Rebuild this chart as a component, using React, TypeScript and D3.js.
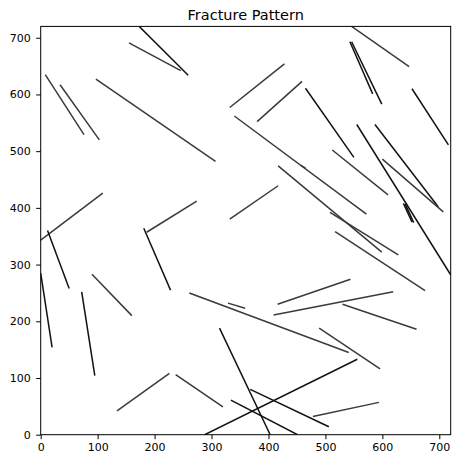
import { useEffect, useRef } from "react";
import * as d3 from "d3";

// fracture segments: [x1, y1, x2, y2] in data units
const SEGMENTS: [number, number, number, number][] = [
  [173, 720, 259, 634],
  [155, 691, 246, 642],
  [8, 635, 76, 529],
  [34, 617, 103, 520],
  [97, 627, 307, 482],
  [109, 426, 0, 343],
  [274, 412, 186, 357],
  [181, 364, 228, 255],
  [12, 360, 50, 258],
  [0, 285, 20, 154],
  [90, 283, 160, 210],
  [72, 252, 95, 104],
  [134, 42, 226, 108],
  [237, 106, 320, 49],
  [288, 0, 556, 133],
  [314, 188, 403, 0],
  [368, 80, 506, 14],
  [334, 61, 451, 0],
  [478, 32, 594, 57],
  [489, 188, 596, 116],
  [261, 250, 541, 145],
  [329, 232, 359, 223],
  [416, 230, 544, 274],
  [409, 211, 619, 252],
  [530, 230, 660, 186],
  [517, 358, 675, 254],
  [417, 474, 599, 322],
  [508, 392, 628, 317],
  [546, 720, 647, 649],
  [543, 693, 583, 601],
  [546, 693, 599, 583],
  [332, 577, 428, 654],
  [380, 552, 459, 623],
  [465, 611, 550, 489],
  [652, 610, 716, 511],
  [340, 562, 572, 389],
  [457, 475, 465, 470],
  [512, 502, 610, 423],
  [555, 547, 720, 282],
  [587, 547, 698, 402],
  [600, 486, 707, 393],
  [637, 408, 652, 375],
  [640, 407, 655, 374],
  [417, 439, 332, 380],
];

// segments drawn darker
const DARK = new Set([0, 7, 8, 9, 11, 14, 15, 16, 17, 29, 30, 33, 34, 38, 39, 41, 42]);

const TICKS = [0, 100, 200, 300, 400, 500, 600, 700];

export default function App() {
  const svgRef = useRef<SVGSVGElement>(null);

  useEffect(() => {
    if (!svgRef.current) return;
    const width = 453;
    const height = 454;
    const margin = { top: 26.4, right: 2.3, bottom: 19.3, left: 40.7 };

    const svg = d3.select(svgRef.current);
    svg.selectAll("*").remove();
    svg.attr("width", width).attr("height", height);

    const x = d3.scaleLinear().domain([0, 720]).range([margin.left, width - margin.right]);
    const y = d3.scaleLinear().domain([0, 720]).range([height - margin.bottom, margin.top]);

    const clipId = "plot-clip";
    svg.append("clipPath").attr("id", clipId)
      .append("rect")
      .attr("x", margin.left)
      .attr("y", margin.top)
      .attr("width", x(720) - x(0))
      .attr("height", y(0) - y(720));

    svg.append("g")
      .attr("clip-path", `url(#${clipId})`)
      .selectAll("line")
      .data(SEGMENTS)
      .join("line")
      .attr("x1", (d) => x(d[0]))
      .attr("y1", (d) => y(d[1]))
      .attr("x2", (d) => x(d[2]))
      .attr("y2", (d) => y(d[3]))
      .attr("stroke", (_d, i) => (DARK.has(i) ? "#111" : "#3a3a3a"))
      .attr("stroke-width", 1.5);

    // frame
    svg.append("rect")
      .attr("x", x(0))
      .attr("y", y(720))
      .attr("width", x(720) - x(0))
      .attr("height", y(0) - y(720))
      .attr("fill", "none")
      .attr("stroke", "#000")
      .attr("stroke-width", 1);

    const styleAxis = (g: d3.Selection<SVGGElement, unknown, null, undefined>) => {
      g.select(".domain").remove();
      g.selectAll(".tick line").attr("stroke", "#000");
      g.selectAll(".tick text")
        .attr("fill", "#000")
        .attr("font-size", "11px")
        .attr("font-family", "DejaVu Sans, sans-serif");
    };

    svg.append("g")
      .attr("transform", `translate(0,${y(0)})`)
      .call(d3.axisBottom(x).tickValues(TICKS).tickSize(4.5).tickPadding(4.5))
      .call(styleAxis);

    svg.append("g")
      .attr("transform", `translate(${x(0)},0)`)
      .call(d3.axisLeft(y).tickValues(TICKS).tickSize(4.5).tickPadding(5.5))
      .call(styleAxis);

    svg.append("text")
      .attr("x", (x(0) + x(720)) / 2)
      .attr("y", 20)
      .attr("text-anchor", "middle")
      .attr("font-size", "14.5px")
      .attr("font-family", "DejaVu Sans, sans-serif")
      .attr("fill", "#000")
      .text("Fracture Pattern");
  }, []);

  return (
    <svg
      ref={svgRef}
      style={{ position: "absolute", left: 0, top: 0, background: "#fff" }}
    />
  );
}
